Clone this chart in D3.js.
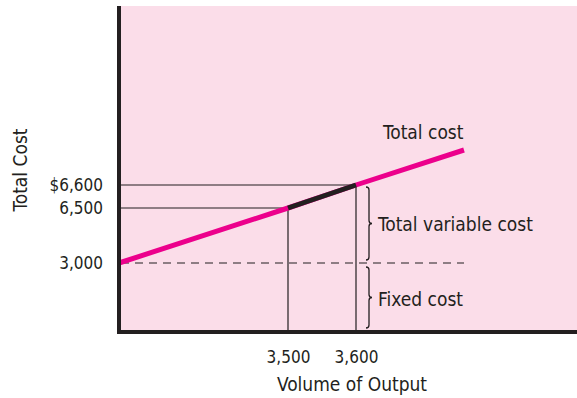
<!DOCTYPE html>
<html>
<head>
<meta charset="utf-8">
<script src="https://cdn.jsdelivr.net/npm/d3@7"></script>
<style>
  body { margin: 0; background: #fff; }
  text { font-family: "Liberation Sans Narrow", "DejaVu Sans Condensed", sans-serif; fill: #231f20; }
  .lbl { font-size: 19px; }
  .tick text { font-size: 17px; }
</style>
</head>
<body>
<div id="chart"></div>
<script>
var w = 577;
var h = 398;

// data (chart is drawn "not to scale", so the scales are piecewise)
var fixedCost = 3000;
var volumes = [0, 3500, 3600, 3760];        // units of output
var totalCosts = [3000, 6500, 6600, 6760];  // fixed + $1 per unit
var xTicks = [3500, 3600];
var xTickLabels = ["3,500", "3,600"];
var yTicks = [6600, 6500, 3000];
var yTickLabels = ["$6,600", "6,500", "3,000"];

var plotLeft = 119, plotRight = 577, plotTop = 6, plotBottom = 332;

var xScale = d3.scaleLinear()
  .domain([0, 3500, 3600, 3760])
  .range([plotLeft, 288, 356, 464]);

var yScale = d3.scaleLinear()
  .domain([0, 3000, 6500, 6600, 6760])
  .range([plotBottom, 263, 208, 185, 150]);

var svg = d3.select("#chart").append("svg")
  .attr("width", w)
  .attr("height", h);

// pink plot area
svg.append("rect")
  .attr("x", plotLeft).attr("y", plotTop)
  .attr("width", plotRight - plotLeft).attr("height", plotBottom - plotTop)
  .attr("fill", "#fbdde9");

var pts = volumes.map(function(v, i) { return {q: v, c: totalCosts[i]}; });

// guide lines to the axes
[0, 1].forEach(function(i) {
  var p = pts[i + 1];
  svg.append("line")
    .attr("x1", plotLeft).attr("x2", xScale(p.q))
    .attr("y1", yScale(p.c)).attr("y2", yScale(p.c))
    .attr("stroke", "#231f20").attr("stroke-width", 1.2);
  svg.append("line")
    .attr("x1", xScale(p.q)).attr("x2", xScale(p.q))
    .attr("y1", yScale(p.c)).attr("y2", plotBottom)
    .attr("stroke", "#231f20").attr("stroke-width", 1.2);
});

// fixed cost dashed line
svg.append("line")
  .attr("x1", plotLeft + 2).attr("x2", xScale(volumes[3]))
  .attr("y1", yScale(fixedCost)).attr("y2", yScale(fixedCost))
  .attr("stroke", "#231f20").attr("stroke-width", 1.2)
  .attr("stroke-dasharray", "8,6");

var line = d3.line()
  .x(function(d) { return xScale(d.q); })
  .y(function(d) { return yScale(d.c); });

svg.append("path")
  .datum(pts)
  .attr("d", line)
  .attr("fill", "none")
  .attr("stroke", "#ec008c")
  .attr("stroke-width", 5);

// segment between 3,500 and 3,600
svg.append("path")
  .datum(pts.slice(1, 3))
  .attr("d", line)
  .attr("fill", "none")
  .attr("stroke", "#231f20")
  .attr("stroke-width", 5);

// axes lines
svg.append("line")
  .attr("x1", plotLeft).attr("x2", plotLeft)
  .attr("y1", plotTop).attr("y2", plotBottom + 2)
  .attr("stroke", "#231f20").attr("stroke-width", 4);
svg.append("line")
  .attr("x1", plotLeft - 2).attr("x2", plotRight)
  .attr("y1", plotBottom).attr("y2", plotBottom)
  .attr("stroke", "#231f20").attr("stroke-width", 4);

// tick labels
var yAxis = d3.axisLeft(yScale)
  .tickValues(yTicks)
  .tickSize(0)
  .tickPadding(16)
  .tickFormat(function(d, i) { return yTickLabels[i]; });
var gy = svg.append("g")
  .attr("transform", "translate(" + plotLeft + ",0)")
  .call(yAxis);
gy.select(".domain").remove();

var xAxis = d3.axisBottom(xScale)
  .tickValues(xTicks)
  .tickSize(0)
  .tickPadding(19)
  .tickFormat(function(d, i) { return xTickLabels[i]; });
var gx = svg.append("g")
  .attr("transform", "translate(0," + plotBottom + ")")
  .call(xAxis);
gx.select(".domain").remove();
svg.selectAll(".tick text").attr("fill", "#231f20");
svg.selectAll("g").attr("font-family", null).attr("font-size", null);

// braces
function brace(x, y1, y2, r) {
  var m = (y1 + y2) / 2;
  return "M" + x + "," + y1 +
    " q" + r + ",0 " + r + "," + r +
    " L" + (x + r) + "," + (m - r) +
    " q0," + r + " " + r + "," + r +
    " q-" + r + ",0 -" + r + "," + r +
    " L" + (x + r) + "," + (y2 - r) +
    " q0," + r + " -" + r + "," + r;
}
var bx = xScale(3600) + 10;
svg.append("path")
  .attr("d", brace(bx, yScale(6600) + 2, yScale(fixedCost) - 3, 3))
  .attr("fill", "none").attr("stroke", "#231f20").attr("stroke-width", 1.3);
svg.append("path")
  .attr("d", brace(bx, yScale(fixedCost) + 4, plotBottom - 4, 3))
  .attr("fill", "none").attr("stroke", "#231f20").attr("stroke-width", 1.3);

// labels
svg.append("text").attr("class", "lbl")
  .attr("x", bx + 12).attr("y", (yScale(6600) + yScale(fixedCost)) / 2 + 7)
  .text("Total variable cost");
svg.append("text").attr("class", "lbl")
  .attr("x", bx + 12).attr("y", (yScale(fixedCost) + plotBottom) / 2 + 8)
  .text("Fixed cost");
svg.append("text").attr("class", "lbl")
  .attr("x", xScale(volumes[3]) - 81).attr("y", yScale(totalCosts[3]) - 11)
  .text("Total cost");
svg.append("text").attr("class", "lbl")
  .attr("text-anchor", "middle")
  .attr("x", 352).attr("y", 391)
  .text("Volume of Output");
svg.append("text").attr("class", "lbl")
  .attr("text-anchor", "middle")
  .attr("transform", "translate(27,170) rotate(-90)")
  .text("Total Cost");
</script>
</body>
</html>
